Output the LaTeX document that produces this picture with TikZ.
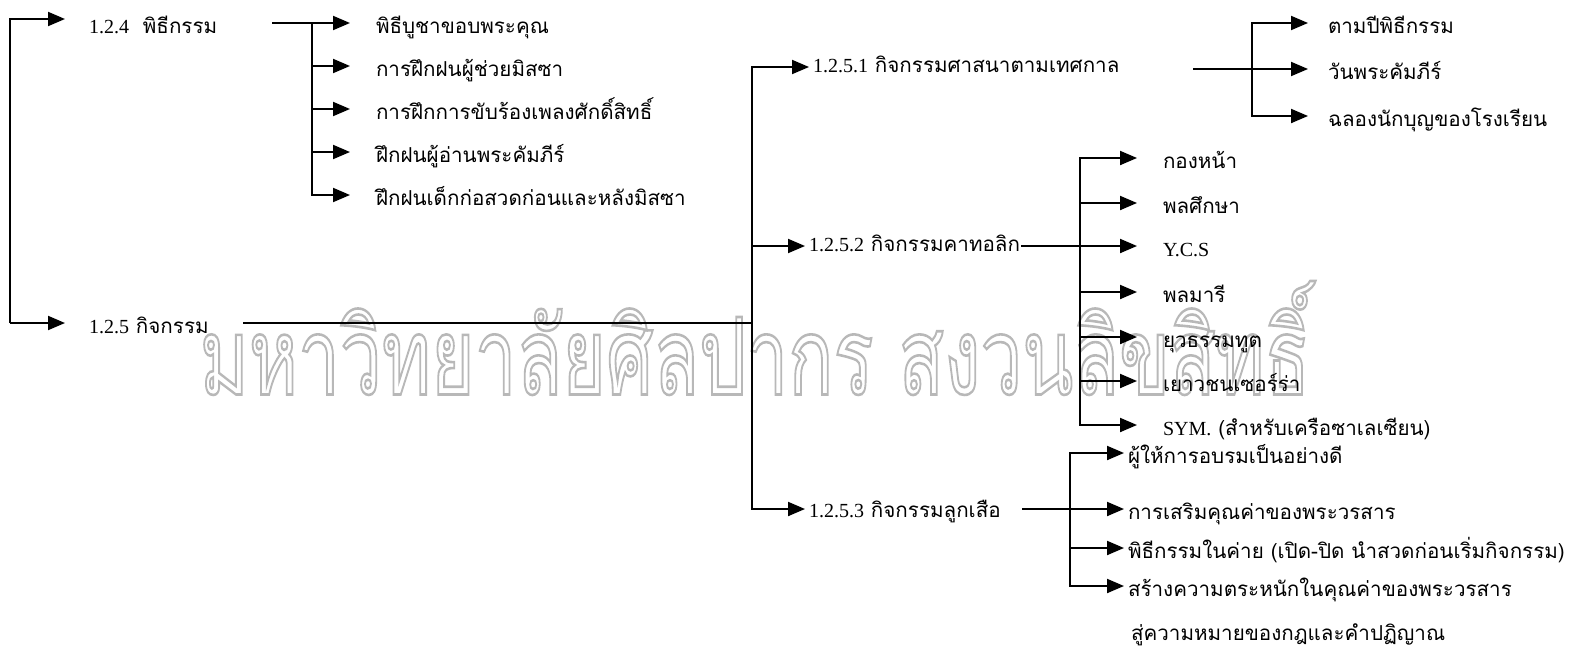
\documentclass[tikz,border=0pt]{standalone}
\usepackage{fontspec}
\usepackage{graphicx}
\setmainfont{Liberation Serif}
\newfontfamily\thaifont[Script=Thai,Scale=1.03]{Loma}
\usetikzlibrary{arrows.meta}
\newcommand{\latn}[1]{{\rmfamily #1}}
\newcommand{\hollow}[1]{\special{pdf:literal direct 1 Tr 0.25 w}#1\special{pdf:literal direct 0 Tr}}

\begin{document}
\begin{tikzpicture}[x=0.5pt,y=-0.5pt,line width=1pt,>={Triangle[length=8.5pt,width=7pt]}]
    \tikzstyle{lbl}=[anchor=west, inner sep=0pt, text height=10pt, text depth=0pt, font=\fontsize{10}{12}\selectfont\thaifont]
    \tikzstyle{hi}=[lbl, text height=5pt]
    \tikzstyle{wmark}=[inner sep=0pt, text=black!28]
    \useasboundingbox (0,0) rectangle (1573,648);

    % watermark
    \node[wmark] (wm) at (755,338) {\hollow{\resizebox*{555pt}{57pt}{\thaifont มหาวิทยาลัยศิลปากร สงวนลิขสิทธิ์}}};

    \node[lbl, text height=14pt] (n124) at (88,19)  {\latn{1.2.4}\ \ พิธีกรรม};
    \node[lbl] (n125) at (88,323) {\latn{1.2.5} กิจกรรม};

    \node[lbl] (p1) at (375,23)  {พิธีบูชาขอบพระคุณ};
    \node[lbl] (p2) at (375,66)  {การฝึกฝนผู้ช่วยมิสซา};
    \node[lbl] (p3) at (375,109) {การฝึกการขับร้องเพลงศักดิ์สิทธิ์};
    \node[lbl] (p4) at (375,152) {ฝึกฝนผู้อ่านพระคัมภีร์};
    \node[lbl] (p5) at (375,195) {ฝึกฝนเด็กก่อสวดก่อนและหลังมิสซา};

    \node[hi] (n1251) at (812,67)  {\latn{1.2.5.1} กิจกรรมศาสนาตามเทศกาล};
    \node[hi] (n1252) at (808,246) {\latn{1.2.5.2} กิจกรรมคาทอลิก};
    \node[lbl, text height=8pt] (n1253) at (808,509) {\latn{1.2.5.3} กิจกรรมลูกเสือ};

    \node[lbl] (q1) at (1327,23)  {ตามปีพิธีกรรม};
    \node[lbl] (q2) at (1327,69)  {วันพระคัมภีร์};
    \node[lbl] (q3) at (1327,116) {ฉลองนักบุญของโรงเรียน};

    \node[lbl] (k1) at (1162,158) {กองหน้า};
    \node[lbl] (k2) at (1162,203) {พลศึกษา};
    \node[lbl] (k3) at (1162,246) {\latn{Y.C.S}};
    \node[lbl] (k4) at (1162,292) {พลมารี};
    \node[lbl] (k5) at (1162,337) {ยุวธรรมทูต};
    \node[lbl] (k6) at (1162,381) {เยาวชนเซอร์ร่า};
    \node[lbl] (k7) at (1162,425) {\latn{SYM.} (สำหรับเครือซาเลเซียน)};

    \node[lbl] (m1) at (1127,453) {ผู้ให้การอบรมเป็นอย่างดี};
    \node[lbl] (m2) at (1127,509) {การเสริมคุณค่าของพระวรสาร};
    \node[lbl] (m3) at (1127,548) {พิธีกรรมในค่าย (เปิด-ปิด นำสวดก่อนเริ่มกิจกรรม)};
    \node[lbl] (m4) at (1127,586) {สร้างความตระหนักในคุณค่าของพระวรสาร};
    \node[lbl] (m5) at (1130,630) {สู่ความหมายของกฎและคำปฏิญาณ};

    \coordinate (r0)    at (10,323);
    \coordinate (s124)  at (272,23);
    \coordinate (j124)  at (312,23);
    \coordinate (s125)  at (243,323);
    \coordinate (j125)  at (752,323);
    \coordinate (s1251) at (1193,69);
    \coordinate (j1251) at (1252,69);
    \coordinate (j1252) at (1080,246);
    \coordinate (s1253) at (1022,509);
    \coordinate (j1253) at (1070,509);

    \draw[->,shorten >=11.5pt] (r0) |- (n124);
    \draw[->,shorten >=11.5pt] (r0) -- (n125);

    \draw (s124) -- (j124);
    \foreach \n in {p1,p2,p3,p4,p5}
      \draw[->,shorten >=12.5pt] (j124) |- (\n);

    \draw (s125) -- (j125);
    \foreach \n in {n1251,n1252,n1253}
      \draw[->,shorten >=1.5pt] (j125) |- (\n);

    \draw (s1251) -- (j1251);
    \foreach \n in {q1,q2,q3}
      \draw[->,shorten >=9.5pt] (j1251) |- (\n);

    \draw (n1252.east) -- (j1252);
    \foreach \n in {k1,k2,k3,k4,k5,k6,k7}
      \draw[->,shorten >=12.5pt] (j1252) |- (\n);

    \draw (s1253) -- (j1253);
    \foreach \n in {m1,m2,m3,m4}
      \draw[->,shorten >=1.5pt] (j1253) |- (\n);
\end{tikzpicture}
\end{document}
